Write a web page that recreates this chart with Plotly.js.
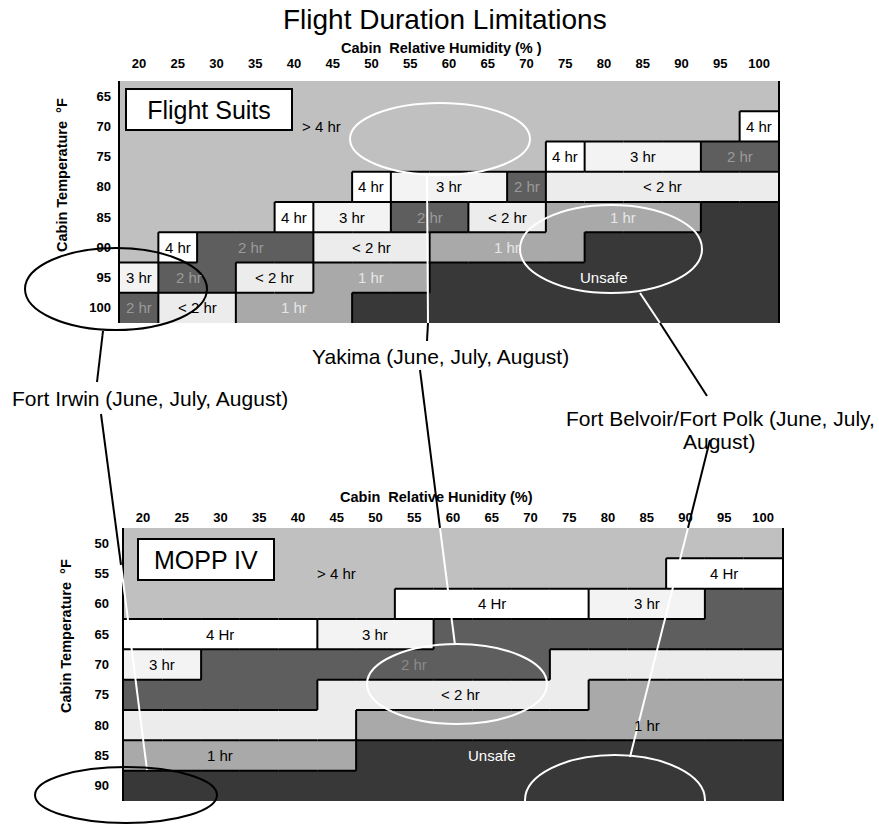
<!DOCTYPE html>
<html>
<head>
<meta charset="utf-8">
<script src="https://cdn.plot.ly/plotly-3.0.1.min.js"></script>
<style>html,body{margin:0;padding:0;background:#fff;}#chart{width:879px;height:825px;}</style>
</head>
<body>
<div id="chart"></div>
<script>
// ---------- data ----------
const humidity = [20,25,30,35,40,45,50,55,60,65,70,75,80,85,90,95,100];
const tempFlightSuits = [65,70,75,80,85,90,95,100];
const tempMopp = [50,55,60,65,70,75,80,85,90];
// category codes: 0 '> 4 hr', 1 '4 hr', 2 '3 hr', 3 '2 hr', 4 '< 2 hr', 5 '1 hr', 6 'Unsafe'
const categories = ['> 4 hr','4 hr','3 hr','2 hr','< 2 hr','1 hr','Unsafe'];
const categoryColors = ['#c0c0c0','#ffffff','#f3f3f3','#5e5e5e','#ececec','#a9a9a9','#383838'];

const fs65  = [0,0,0,0,0,0,0,0,0,0,0,0,0,0,0,0,0];
const fs70  = [0,0,0,0,0,0,0,0,0,0,0,0,0,0,0,0,1];
const fs75  = [0,0,0,0,0,0,0,0,0,0,0,1,2,2,2,3,3];
const fs80  = [0,0,0,0,0,0,1,2,2,2,3,4,4,4,4,4,4];
const fs85  = [0,0,0,0,1,2,2,3,3,4,4,5,5,5,5,6,6];
const fs90  = [0,1,3,3,3,4,4,4,5,5,5,5,6,6,6,6,6];
const fs95  = [2,3,3,4,4,5,5,5,6,6,6,6,6,6,6,6,6];
const fs100 = [3,4,4,5,5,5,6,6,6,6,6,6,6,6,6,6,6];

const mp50 = [0,0,0,0,0,0,0,0,0,0,0,0,0,0,0,0,0];
const mp55 = [0,0,0,0,0,0,0,0,0,0,0,0,0,0,1,1,1];
const mp60 = [0,0,0,0,0,0,0,1,1,1,1,1,2,2,2,3,3];
const mp65 = [1,1,1,1,1,2,2,2,3,3,3,3,3,3,3,3,3];
const mp70 = [2,2,3,3,3,3,3,3,3,3,3,4,4,4,4,4,4];
const mp75 = [3,3,3,3,3,4,4,4,4,4,4,4,5,5,5,5,5];
const mp80 = [4,4,4,4,4,4,5,5,5,5,5,5,5,5,5,5,5];
const mp85 = [5,5,5,5,5,5,6,6,6,6,6,6,6,6,6,6,6];
const mp90 = [6,6,6,6,6,6,6,6,6,6,6,6,6,6,6,6,6];

const gridFS = [fs65,fs70,fs75,fs80,fs85,fs90,fs95,fs100];
const gridMP = [mp50,mp55,mp60,mp65,mp70,mp75,mp80,mp85,mp90];

// cell labels [text, humidity, temperature, category]
const labelsFS = [
  ['> 4 hr',43.5,70,0],['4 hr',100,70,1],
  ['4 hr',75,75,1],['3 hr',85,75,2],['2 hr',97.5,75,3],
  ['4 hr',50,80,1],['3 hr',60,80,2],['2 hr',70,80,3],['< 2 hr',87.5,80,4],
  ['4 hr',40,85,1],['3 hr',47.5,85,2],['2 hr',57.5,85,3],['< 2 hr',67.5,85,4],['1 hr',82.5,85,5],
  ['4 hr',25,90,1],['2 hr',34.5,90,3],['< 2 hr',50,90,4],['1 hr',67.5,90,5],
  ['3 hr',20,95,2],['2 hr',26.5,95,3],['< 2 hr',37.5,95,4],['1 hr',50,95,5],['Unsafe',80,95,6],
  ['2 hr',20,100,3],['< 2 hr',27.5,100,4],['1 hr',40,100,5]
];
const labelsMP = [
  ['> 4 hr',45,55,0],['4 Hr',95,55,1],
  ['4 Hr',65,60,1],['3 hr',85,60,2],
  ['4 Hr',30,65,1],['3 hr',50,65,2],
  ['3 hr',22.5,70,2],['2 hr',55,70,3],
  ['< 2 hr',61,75,4],
  ['1 hr',85,80,5],
  ['1 hr',30,85,5],['Unsafe',65,85,6]
];
const labelColorFS = ['#000','#000','#000','#9a9a9a','#000','#e6e6e6','#ffffff'];
const labelColorMP = ['#000','#000','#000','#8a8a8a','#000','#000','#ffffff'];

// ---------- helpers ----------
const W = 879, H = 825;
const PX = v => v / W, PY = v => 1 - v / H;
const FONT = 'Liberation Sans, Arial, sans-serif';

const colorscale = categoryColors.map((c, i) => [i / 6, c]);

function heat(grid, temps, xa, ya) {
  return {
    type: 'heatmap', x: humidity, y: temps, z: grid,
    zmin: 0, zmax: 6, colorscale: colorscale, showscale: false,
    hoverinfo: 'skip', xaxis: xa, yaxis: ya
  };
}

function borders(grid, temps, xr, yr) {
  const out = [];
  const ln = {color: '#000', width: 2};
  for (let r = 0; r < grid.length; r++) {
    for (let c = 0; c < humidity.length; c++) {
      if (c < humidity.length - 1 && grid[r][c] !== grid[r][c + 1]) {
        out.push({type: 'line', xref: xr, yref: yr, x0: humidity[c] + 2.5, x1: humidity[c] + 2.5,
          y0: temps[r] - 2.5, y1: temps[r] + 2.5, line: ln});
      }
      if (r < grid.length - 1 && grid[r][c] !== grid[r + 1][c]) {
        out.push({type: 'line', xref: xr, yref: yr, x0: humidity[c] - 2.5, x1: humidity[c] + 2.5,
          y0: temps[r] + 2.5, y1: temps[r] + 2.5, line: ln});
      }
    }
  }
  return out;
}

function cellLabels(list, colors, xr, yr) {
  return list.map(l => ({
    text: l[0], x: l[1], y: l[2], xref: xr, yref: yr, showarrow: false,
    font: {family: FONT, size: 15, color: colors[l[3]]}
  }));
}

function ellipse(cx, cy, rx, ry, color) {
  return {type: 'circle', xref: 'paper', yref: 'paper',
    x0: PX(cx - rx), x1: PX(cx + rx), y0: PY(cy + ry), y1: PY(cy - ry),
    line: {color: color, width: 2}};
}
function seg(xa, ya, xb, yb, color) {
  return {type: 'line', xref: 'paper', yref: 'paper',
    x0: PX(xa), y0: PY(ya), x1: PX(xb), y1: PY(yb), line: {color: color, width: 2}};
}
function text(t, x, y, size, opts) {
  return Object.assign({text: t, x: PX(x), y: PY(y), xref: 'paper', yref: 'paper',
    showarrow: false, xanchor: 'center', yanchor: 'middle',
    font: {family: FONT, size: size, color: '#000'}}, opts || {});
}
const boldFont = size => ({family: FONT, size: size, color: '#000', weight: 'bold'});

const tickFont = {family: FONT, size: 13, color: '#000', weight: 'bold'};
function xAxis(domain, anchor, standoff) {
  return {domain: domain, anchor: anchor, side: 'top', range: [17.5, 102.5],
    tickvals: humidity, ticktext: humidity.map(String), tickfont: tickFont,
    ticks: '', ticklabelstandoff: standoff, showgrid: false, zeroline: false, showline: false,
    fixedrange: true};
}
function yAxis(domain, anchor, temps, standoff) {
  return {domain: domain, anchor: anchor, autorange: false,
    range: [temps[temps.length - 1] + 2.5, temps[0] - 2.5],
    tickvals: temps, ticktext: temps.map(String), tickfont: tickFont,
    ticks: '', ticklabelstandoff: standoff, showgrid: false, zeroline: false,
    showline: true, mirror: true, linecolor: '#000', linewidth: 2, fixedrange: true};
}

const data = [
  heat(gridFS, tempFlightSuits, 'x', 'y'),
  heat(gridMP, tempMopp, 'x2', 'y2')
];

const shapes = []
  .concat(borders(gridFS, tempFlightSuits, 'x', 'y'))
  .concat(borders(gridMP, tempMopp, 'x2', 'y2'))
  .concat([
    // Fort Irwin
    ellipse(116, 289, 91, 41, '#000'),
    seg(103, 331, 97, 382, '#000'),
    seg(101, 414, 121, 565, '#000'),
    seg(121, 565, 147, 770, '#fff'),
    ellipse(126, 795, 91, 28, '#000'),
    // Yakima
    ellipse(440, 139, 90, 36, '#fff'),
    seg(427, 176, 428, 323, '#fff'),
    seg(428, 323, 427, 341, '#000'),
    seg(420, 370, 440, 528, '#000'),
    seg(440, 528, 455, 645, '#fff'),
    ellipse(457, 684, 90, 40, '#fff'),
    // Fort Belvoir / Fort Polk
    ellipse(611, 249, 91, 44, '#fff'),
    seg(640, 293, 660, 323, '#fff'),
    seg(660, 323, 707, 396, '#000'),
    seg(710, 440, 688, 528, '#000'),
    seg(688, 528, 630, 757, '#fff'),
    ellipse(615, 800, 90, 45, '#fff')
  ]);

const annotations = []
  .concat(cellLabels(labelsFS, labelColorFS, 'x', 'y'))
  .concat(cellLabels(labelsMP, labelColorMP, 'x2', 'y2'))
  .concat([
    text('Flight Duration Limitations', 445, 19, 28),
    text('Cabin  Relative Humidity (% )', 441, 48, 14, {font: boldFont(14.5)}),
    text('Cabin  Relative Hunidity (%)', 436, 497, 14, {font: boldFont(14.5)}),
    text('Cabin Temperature  °F', 62, 175, 14, {textangle: -90, font: boldFont(14.5)}),
    text('Cabin Temperature  °F', 66, 636, 14, {textangle: -90, font: boldFont(14.5)}),
    text('Flight Suits', 209, 110, 25, {bgcolor: '#fff', bordercolor: '#000', borderwidth: 2, borderpad: 0, width: 164, height: 39}),
    text('MOPP IV', 206, 559, 25, {bgcolor: '#fff', bordercolor: '#000', borderwidth: 2, borderpad: 0, width: 134, height: 39}),
    text('Yakima (June, July, August)', 440, 356, 21),
    text('Fort Irwin (June, July, August)', 150, 398, 21),
    text('Fort Belvoir/Fort Polk (June, July,', 720, 418, 21),
    text('August)', 719, 441, 21)
  ]);

const layout = {
  width: W, height: H, margin: {l: 0, r: 0, t: 0, b: 0},
  paper_bgcolor: '#fff', plot_bgcolor: '#fff', showlegend: false,
  font: {family: FONT, color: '#000'},
  xaxis: xAxis([119.6 / W, 778.4 / W], 'y', 9),
  yaxis: yAxis([1 - 323 / H, 1 - 81 / H], 'x', tempFlightSuits, 4),
  xaxis2: xAxis([123.6 / W, 782.4 / W], 'y2', 2),
  yaxis2: yAxis([1 - 801 / H, 1 - 528 / H], 'x2', tempMopp, 10),
  shapes: shapes,
  annotations: annotations
};

Plotly.newPlot('chart', data, layout, {staticPlot: true, displayModeBar: false});
</script>
</body>
</html>
